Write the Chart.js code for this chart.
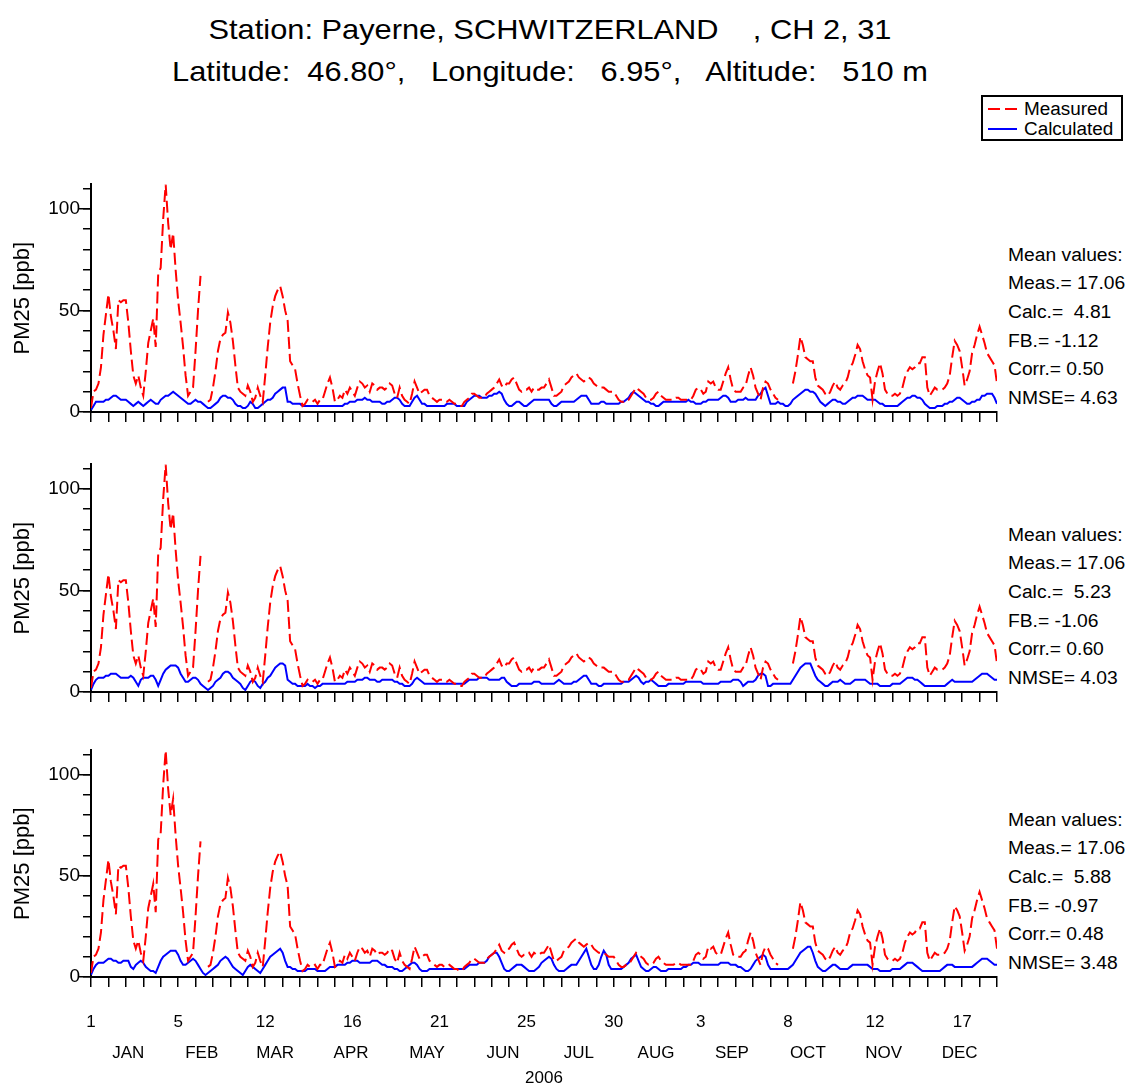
<!DOCTYPE html>
<html><head><meta charset="utf-8">
<script src="https://cdn.jsdelivr.net/npm/chart.js@4.4.0/dist/chart.umd.min.js"></script>
<style>
html,body{margin:0;padding:0;background:#fff;}
#page{position:relative;width:1130px;height:1088px;overflow:hidden;background:#fff;font-family:'Liberation Sans',Arial,sans-serif;color:#000;}
canvas{position:absolute;left:0;}
.t{position:absolute;white-space:pre;}
.title{left:550px;font-size:28px;line-height:34px;transform:translateX(-50%) scaleX(1.1);}
.stat{left:1008px;font-size:18px;line-height:20px;transform:scaleX(1.07);transform-origin:0 50%;}
.leg{left:1024px;font-size:18px;line-height:20px;transform:scaleX(1.05);transform-origin:0 50%;}
</style></head>
<body><div id="page">
<div class="t title" style="top:13px">Station: Payerne, SCHWITZERLAND    , CH 2, 31</div>
<div class="t title" style="top:55px">Latitude:  46.80°,   Longitude:   6.95°,   Altitude:   510 m</div>
<div style="position:absolute;left:981px;top:95px;width:142px;height:46px;border:2px solid #000;box-sizing:border-box;"></div>
<svg style="position:absolute;left:985px;top:100px" width="36" height="38">
<line x1="3" y1="9" x2="32" y2="9" stroke="#ff0000" stroke-width="2" stroke-dasharray="12 5"/>
<line x1="3" y1="29" x2="32" y2="29" stroke="#0000ff" stroke-width="2"/>
</svg>
<div id="legtxt"></div>
<div id="stats"></div>
<canvas id="c1"></canvas>
<canvas id="c2"></canvas>
<canvas id="c3"></canvas>
</div>
<script>
// ---------- data ----------
const seriesNames = ['Measured', 'Calculated'];
const measured = [
2,10,11,14,22,38,48,58,47,40,
31,55,54,55,55,44,30,18,14,18,
12,8,20,34,40,46,32,68,71,95,
112,93,80,88,70,55,44,32,18,8,
10,12,30,50,67,null,null,5,6,12,
20,30,36,38,39,49,44,35,23,12,
10,9,8,13,10,5,7,12,8,5,
18,32,44,52,57,60,62,57,50,45,
25,23,21,14,8,3,4,6,5,5,
6,4,6,6,10,14,17,12,5,6,
8,7,11,9,12,10,8,12,15,14,
12,13,10,14,13,11,12,12,11,12,
14,13,9,7,12,8,6,5,4,9,
15,12,9,10,11,11,8,7,6,5,
6,6,5,5,6,5,4,4,3,3,
5,6,7,9,9,8,7,7,7,9,
10,11,12,14,16,13,12,14,14,16,
17,14,11,10,11,11,12,10,12,11,
11,12,12,14,16,12,8,8,9,10,
13,14,15,17,18,19,17,16,15,16,
17,16,14,13,12,12,12,11,10,10,
10,8,6,5,5,6,6,8,10,12,
11,10,9,7,6,6,7,9,10,8,
7,6,6,6,6,7,7,6,6,6,
6,6,8,11,12,11,9,10,15,14,
15,12,11,11,15,19,22,16,11,10,
10,10,12,13,18,22,18,12,9,6,
12,15,14,11,9,7,6,null,null,null,
null,null,14,20,28,37,33,27,26,25,
25,17,13,12,11,9,8,10,13,15,
12,11,13,14,17,22,24,28,33,31,
25,21,18,17,6,15,20,24,19,11,
9,8,8,9,8,9,12,17,20,22,
21,22,24,24,27,27,12,8,10,12,
11,11,11,12,14,18,27,35,33,30,
22,13,16,20,29,33,38,42,38,34,
29,27,25,23,14];

const calculated1 = [
1,3,5,5,5,5,6,6,7,8,
8,7,6,6,6,5,4,3,4,5,
4,3,4,5,6,5,4,4,6,7,
8,8,9,10,9,8,7,6,5,4,
4,5,6,5,5,4,3,2,2,3,
4,5,7,8,8,7,7,6,4,3,
3,2,2,3,5,4,2,2,3,4,
5,6,6,7,9,10,11,12,12,5,
5,4,4,4,4,3,3,3,3,3,
3,3,3,3,3,3,3,3,3,3,
3,3,4,4,5,5,5,6,6,6,
7,6,6,5,5,5,5,4,4,5,
5,6,7,7,6,4,3,3,3,5,
7,8,6,4,4,3,3,3,3,3,
3,3,3,4,4,4,4,3,3,3,
3,5,6,7,8,8,8,7,7,7,
8,8,9,9,10,9,6,4,3,3,
4,5,5,4,3,3,4,5,6,6,
6,6,6,6,6,4,3,3,4,5,
5,5,5,5,5,6,7,8,8,8,
6,4,4,4,4,5,5,4,4,4,
4,4,4,5,5,6,7,9,10,9,
8,7,6,5,5,4,4,3,3,4,
5,5,5,5,5,5,5,5,5,5,
6,5,5,4,4,4,5,5,6,6,
6,6,6,7,8,8,7,5,5,5,
6,6,6,7,6,6,6,6,8,9,
11,12,8,4,4,4,5,4,4,3,
3,4,6,7,8,9,10,11,11,10,
10,9,7,5,4,3,4,5,6,6,
5,5,4,4,5,6,7,7,8,8,
8,7,6,6,6,6,5,4,4,3,
3,3,3,3,3,4,5,6,7,7,
8,8,7,7,6,4,3,2,2,2,
3,3,3,4,4,5,5,6,7,7,
6,5,4,4,5,5,6,6,8,8,
9,9,9,7,4];

const calculated2 = [
1,4,6,7,7,7,8,8,9,9,
9,8,7,7,7,7,8,7,5,3,
6,7,7,7,8,8,6,3,6,9,
11,12,13,13,13,12,9,7,5,5,
6,7,7,6,4,3,2,1,2,3,
5,6,7,9,10,10,9,7,6,5,
4,2,1,3,5,6,5,3,2,4,
5,7,8,10,12,13,14,14,13,6,
5,4,4,3,3,3,3,4,3,3,
2,3,3,4,4,4,4,4,4,4,
4,4,4,5,5,5,5,6,6,6,
7,7,6,6,6,5,5,6,6,6,
6,6,5,5,4,4,3,3,3,4,
6,7,6,5,4,4,4,4,4,4,
4,4,4,4,4,4,4,4,4,4,
4,5,6,6,6,6,7,7,7,7,
6,6,6,6,6,7,7,5,4,3,
3,3,4,4,4,4,4,4,5,5,
5,4,4,4,4,4,4,5,6,5,
4,4,4,4,5,5,6,7,8,8,
6,4,4,4,3,3,4,4,4,4,
4,4,4,4,5,5,5,6,7,8,
7,5,4,5,5,6,5,4,3,3,
3,3,4,4,4,4,4,4,4,5,
5,5,5,5,5,5,4,4,4,4,
4,4,4,5,5,5,5,5,6,6,
6,5,3,4,5,5,5,6,8,9,
9,8,3,3,4,4,4,4,4,4,
4,4,6,8,10,12,13,14,14,14,
11,8,6,5,4,3,3,4,5,5,
5,6,5,4,4,4,5,6,6,6,
6,6,5,4,4,4,4,3,3,3,
3,3,4,4,4,4,5,6,7,7,
7,6,6,5,4,3,3,3,3,3,
3,3,3,3,4,5,6,5,5,5,
5,5,5,5,5,6,7,8,9,9,
9,8,7,6,6];

const calculated3 = [
1,4,6,7,7,7,8,9,9,8,
8,7,7,8,8,8,5,4,6,7,
8,7,5,4,3,3,2,5,8,10,
11,12,13,13,13,11,8,6,6,7,
8,9,8,6,4,2,1,2,3,4,
5,6,8,9,10,9,7,5,4,3,
2,1,3,5,6,5,4,3,2,4,
6,8,10,11,12,13,14,12,8,5,
5,4,4,3,3,3,3,4,4,4,
4,3,3,3,3,4,5,5,5,6,
6,6,6,7,7,8,8,8,7,7,
7,7,7,8,8,8,7,6,6,5,
5,5,4,4,3,3,4,5,6,7,
7,6,4,3,3,3,4,4,4,4,
4,4,4,4,4,4,4,4,4,4,
4,5,6,6,6,6,7,7,7,8,
10,11,12,12,10,7,4,3,3,4,
5,6,6,6,5,4,3,3,3,4,
5,7,8,9,10,9,6,4,3,3,
3,4,5,6,6,6,8,10,12,14,
10,6,4,4,6,10,13,11,6,4,
4,4,4,4,5,6,7,9,10,11,
8,5,4,3,3,4,5,5,4,3,
3,3,4,4,4,4,4,4,5,5,
6,6,7,7,7,6,6,6,6,6,
6,6,6,7,7,7,7,6,6,6,
5,5,4,3,3,4,6,8,9,10,
11,10,6,4,4,4,4,4,4,4,
4,5,6,8,10,12,13,14,15,15,
12,8,5,4,3,3,4,5,6,6,
5,4,4,4,4,5,6,6,6,6,
6,6,6,5,4,4,4,3,3,3,
3,3,4,4,4,4,5,6,7,7,
7,6,5,4,3,3,3,3,3,3,
3,3,4,5,6,6,6,5,5,5,
5,5,5,5,5,6,7,8,9,9,
9,8,7,6,6];

const dayTickLabels = ['1','5','12','16','21','25','30','3','8','12','17'];
const monthNames = ['JAN','FEB','MAR','APR','MAY','JUN','JUL','AUG','SEP','OCT','NOV','DEC'];
const yearLabel = '2006';
const yTickLabels = ['0','50','100'];
const statLabels = ['Mean values:', 'Meas.= ', 'Calc.=  ', 'FB.= ', 'Corr.= ', 'NMSE= '];
const statsPanel1 = ['', '17.06', '4.81', '-1.12', '0.50', '4.63'];
const statsPanel2 = ['', '17.06', '5.23', '-1.06', '0.60', '4.03'];
const statsPanel3 = ['', '17.06', '5.88', '-0.97', '0.48', '3.48'];
const yTitle = 'PM25 [ppb]';

[measured, calculated1, calculated2, calculated3].forEach((a, k) => {
  if (a.length !== 365) throw new Error('series ' + k + ' has ' + a.length + ' values');
});

// ---------- derived ----------
const days = Array.from({length: 365}, (_, i) => i + 1);
const weekTicks = Array.from({length: 53}, (_, i) => 1 + 7 * i);
const labelDays = dayTickLabels.map((_, i) => 1 + 35 * i);
const dayOfYear = d => Math.round((d - new Date(2006, 0, 1)) / 86400000) + 1;
const monthMid = monthNames.map((_, m) => (dayOfYear(new Date(2006, m, 1)) + dayOfYear(new Date(2006, m + 1, 0))) / 2);
const yMinor = Array.from({length: 12}, (_, i) => i * 10);
const yMajor = yTickLabels.map(Number);

// ---------- html text ----------
const legEl = document.getElementById('legtxt');
seriesNames.forEach((n, i) => {
  const d = document.createElement('div');
  d.className = 't leg'; d.style.top = (99 + 20 * i) + 'px'; d.textContent = n;
  legEl.appendChild(d);
});
const statsEl = document.getElementById('stats');
[[statsPanel1, 0], [statsPanel2, 280], [statsPanel3, 565]].forEach(([vals, off]) => {
  statLabels.forEach((lab, i) => {
    const d = document.createElement('div');
    d.className = 't stat';
    d.style.top = (254.5 + off + 28.7 * i - 10) + 'px';
    d.textContent = lab + vals[i];
    statsEl.appendChild(d);
  });
});

// ---------- charts ----------
const FONT = "'Liberation Sans', Arial, sans-serif";
const pts = arr => days.map((d, i) => ({x: d, y: arr[i]}));

function makePanel(id, top, height, calc, withLabels) {
  const cv = document.getElementById(id);
  cv.width = 1130; cv.height = height; cv.style.top = top + 'px';
  const scales = {
    x: {
      type: 'linear', position: 'bottom', min: 1, max: 365, weight: 0,
      afterBuildTicks: s => { s.ticks = weekTicks.map(v => ({value: v})); },
      afterFit: s => { s.height = withLabels ? 22 : 20; },
      ticks: {display: false},
      grid: {drawOnChartArea: false, drawTicks: true, tickLength: 10, color: '#000', lineWidth: 1.5},
      border: {display: true, color: '#000', width: 2}
    },
    y: {
      type: 'linear', position: 'left', min: 0, max: 112, weight: 1,
      afterBuildTicks: s => { s.ticks = yMinor.map(v => ({value: v})); },
      afterFit: s => { s.width = 91; },
      ticks: {autoSkip: false, padding: 3, color: '#000', font: {family: FONT, size: 19},
              callback: v => (yMajor.includes(v) ? yTickLabels[yMajor.indexOf(v)] : '')},
      grid: {drawOnChartArea: false, drawTicks: true, tickLength: 8, color: '#000', lineWidth: 1.5},
      border: {display: true, color: '#000', width: 2},
      title: {display: true, text: yTitle, color: '#000', font: {family: FONT, size: 22}, padding: {top: 10, bottom: 0}}
    },
    yMaj: {
      type: 'linear', position: 'left', min: 0, max: 112, weight: 0,
      afterBuildTicks: s => { s.ticks = yMajor.map(v => ({value: v})); },
      afterFit: s => { s.width = 0; },
      ticks: {display: false},
      grid: {drawOnChartArea: false, drawTicks: true, tickLength: 12, color: '#000', lineWidth: 1.5},
      border: {display: false}
    }
  };
  if (withLabels) {
    scales.xd = {
      type: 'linear', position: 'bottom', min: 1, max: 365, weight: 1,
      afterBuildTicks: s => { s.ticks = labelDays.map(v => ({value: v})); },
      afterFit: s => { s.height = 37; },
      ticks: {autoSkip: false, maxRotation: 0, padding: 13, color: '#000', font: {family: FONT, size: 17},
              callback: (v, i) => dayTickLabels[i]},
      grid: {display: false, drawTicks: false, tickLength: 0},
      border: {display: false}
    };
    scales.xm = {
      type: 'linear', position: 'bottom', min: 1, max: 365, weight: 2,
      afterBuildTicks: s => { s.ticks = monthMid.map(v => ({value: v})); },
      afterFit: s => { s.height = 52; },
      ticks: {autoSkip: false, maxRotation: 0, padding: 7, color: '#000', font: {family: FONT, size: 17},
              callback: (v, i) => monthNames[i]},
      grid: {display: false, drawTicks: false, tickLength: 0},
      border: {display: false},
      title: {display: true, text: yearLabel, color: '#000', font: {family: FONT, size: 17}, padding: {top: 0, bottom: -1}}
    };
  }
  return new Chart(cv, {
    type: 'line',
    data: {
      datasets: [
        {label: seriesNames[0], data: pts(measured), borderColor: '#ff0000', borderWidth: 2,
         borderDash: [12, 5], pointRadius: 0, tension: 0, spanGaps: false, fill: false},
        {label: seriesNames[1], data: pts(calc), borderColor: '#0000ff', borderWidth: 2,
         pointRadius: 0, tension: 0, spanGaps: false, fill: false}
      ]
    },
    options: {
      responsive: false, animation: false, devicePixelRatio: 1,
      layout: {padding: {left: 0, right: 133, top: 12, bottom: 0}},
      plugins: {legend: {display: false}, tooltip: {enabled: false}, title: {display: false}},
      scales
    }
  });
}

makePanel('c1', 170, 262, calculated1, false);
makePanel('c2', 450, 262, calculated2, false);
makePanel('c3', 736, 352, calculated3, true);
</script>
</body></html>
